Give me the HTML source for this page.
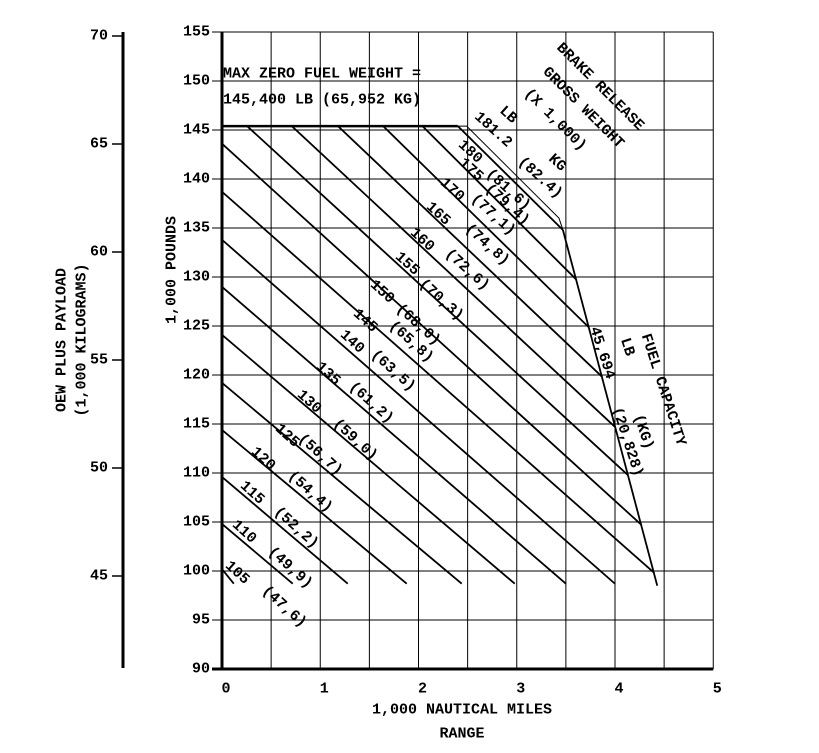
<!DOCTYPE html>
<html><head><meta charset="utf-8"><style>
html,body{margin:0;padding:0;background:#fff;}
svg{display:block;}
text{font-family:"Liberation Sans",sans-serif;font-size:14px;fill:#000;}
.m{font-family:"Liberation Mono",monospace;font-size:15px;font-weight:bold;}
</style></head><body>
<svg id="chart" width="819" height="753" viewBox="0 0 819 753" xmlns="http://www.w3.org/2000/svg"></svg>
<script>
const xTicks=[0,1,2,3,4,5];
const yTicks=[90,95,100,105,110,115,120,125,130,135,140,145,150,155];
const kgTicks=[45,50,55,60,65,70];
const weights=[105,110,115,120,125,130,135,140,145,150,155,160,165,170,175,180];
const kgLabels=["(47,6)","(49,9)","(52,2)","(54,4)","(56,7)","(59,0)","(61,2)","(63,5)","(65,8)","(68,0)","(70,3)","(72,6)","(74,8)","(77,1)","(79,4)","(81,6)"];
const startX=[0,0,0,0,0,0,0,0,0,0,0.255,0.71,1.18,1.64,2.04,2.40];
const startY=[100.2,104.8,109.6,114.4,119.2,124.1,129.0,133.8,138.7,143.6,145.4,145.4,145.4,145.4,145.4,145.4];
const endX=[0.12,0.72,1.28,1.88,2.44,2.98,3.50,4.00,4.40,4.27,4.13,4.00,3.87,3.73,3.61,3.47];
const endY=[98.7,98.7,98.7,98.7,98.7,98.7,98.7,98.7,99.8,104.7,109.8,114.7,119.8,124.9,129.7,134.8];
const fuelX=[3.47,4.43];
const fuelY=[134.8,98.5];
const maxLineX=[2.40,2.49,3.43,3.47];
const maxLineY=[145.4,145.4,136.0,134.8];
const mzfw=145.4;

const X=v=>222+v*98.25;
const Y=v=>669-(v-90)*9.8;
const K=v=>36+(70-v)*21.6;
const svg=document.getElementById('chart');
const NS='http://www.w3.org/2000/svg';
function mk(tag,attrs){const e=document.createElementNS(NS,tag);for(const k in attrs)e.setAttribute(k,attrs[k]);svg.appendChild(e);return e;}
function line(x1,y1,x2,y2,w){return mk('line',{x1,y1,x2,y2,stroke:'#000','stroke-width':w});}
function txt(s,x,y,rot,cls,anchor){const t=mk('text',{x,y,'text-anchor':anchor||'middle','dominant-baseline':'central',class:cls||'m'});if(rot)t.setAttribute('transform',`rotate(${rot} ${x} ${y})`);t.textContent=s;return t;}

for(let i=1;i<=10;i++){const g=line(X(i*0.5),Y(155),X(i*0.5),Y(90),1);

}
yTicks.forEach(v=>{const g=line(212,Y(v),X(5),Y(v),v===90?3:1);


const t=txt(String(v),210,Y(v),0,'m','end');

});
const ya=line(222,Y(155),222,Y(90)+1,3);


xTicks.forEach(v=>{const t=txt(String(v),X(v)+4,689,0,'m');

});
const ka=line(123,32,123,668,3);


kgTicks.forEach(v=>{const tk=line(112,K(v),123,K(v),1.5);


const t=txt(String(v),108,K(v),0,'m','end');

});
const pl=line(X(0),Y(mzfw),X(startX[15]),Y(mzfw),2.5);


weights.forEach((w,i)=>{const l=line(X(startX[i]),Y(startY[i]),X(endX[i]),Y(endY[i]),1.8);

});
const mp=mk('polyline',{points:maxLineX.map((x,i)=>X(x)+','+Y(maxLineY[i])).join(' '),fill:'none',stroke:'#000','stroke-width':1});


const fl=line(X(fuelX[0]),Y(fuelY[0]),X(fuelX[1]),Y(fuelY[1]),1.8);



const lbPos=[[237,573],[244,532],[252,493],[263,459],[287,436],[309,402],[328,374],[352,342],[365,321],[382,292],[407,264],[422,240],[438,214],[452,190],[471,170],[470,152]];
const kgPos=[[284,607],[290,568],[296,528],[310,492],[320,455],[355,440],[371,403],[393,371],[411,342],[418,325],[441,300],[467,270],[487,245],[493,215],[507,205],[508,190]];
weights.forEach((w,i)=>{const a=txt(String(w),lbPos[i][0],lbPos[i][1],42);


const b=txt(kgLabels[i],kgPos[i][0],kgPos[i][1],42);

});
[["181.2",493,130,42],["LB",508,115,42],["KG",557,163,42],["(82.4)",540,178,42],
 ["BRAKE RELEASE",600,87,45],["GROSS WEIGHT",583,108,45],["(X 1,000)",555,120,45],
 ["45,694",602,353,72],["LB",627,347,72],["FUEL CAPACITY",663,390,72],["(KG)",643,432,72],["(20,828)",627,442,72]
].forEach(a=>{const t=txt(a[0],a[1],a[2],a[3]);

});
const m1=txt("MAX ZERO FUEL WEIGHT =",223,74,0,'m','start');


const m2=txt("145,400 LB (65,952 KG)",223,100,0,'m','start');


const t1=txt("1,000 POUNDS",172,270,-90);


const t2=txt("OEW PLUS PAYLOAD",62,340,-90);


const t3=txt("(1,000 KILOGRAMS)",82,340,-90);


const t4=txt("1,000 NAUTICAL MILES",462,710,0);


const t5=txt("RANGE",462,734,0);


</script>
</body></html>
